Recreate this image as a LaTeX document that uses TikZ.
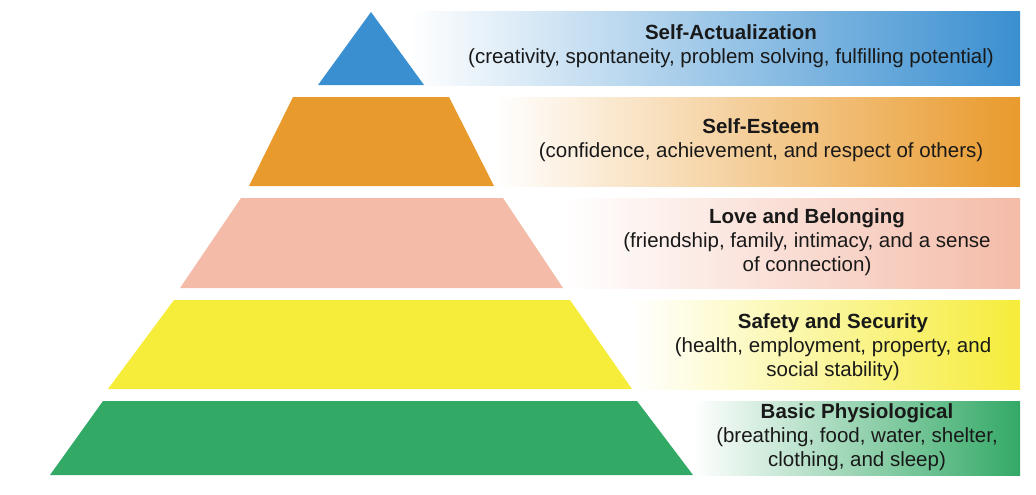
\documentclass[tikz,border=0pt]{standalone}
\usepackage{fontspec}
\setmainfont{Liberation Sans}
\definecolor{cblue}{HTML}{3A8FD0}
\definecolor{corange}{HTML}{E99A2C}
\definecolor{cpink}{HTML}{F4BBA8}
\definecolor{cyellow}{HTML}{F6EC3A}
\definecolor{cgreen}{HTML}{33A966}
\tikzset{lbl/.style={align=center,font=\fontsize{20.5}{24}\selectfont,text=black!90,inner sep=0pt}}
\begin{document}
\begin{tikzpicture}[x=1pt,y=-1pt]
\useasboundingbox (0,0) rectangle (1036,495);
% bands
\shade[left color=white,right color=cblue] (410,12) rectangle (1020,85);
\shade[left color=white,right color=corange] (494,97) rectangle (1020,186);
\shade[left color=white,right color=cpink] (563,198) rectangle (1020,288);
\shade[left color=white,right color=cyellow] (632,300) rectangle (1020,389);
\shade[left color=white,right color=cgreen] (693,401) rectangle (1020,475);
% pyramid
\fill[cblue] (371,12) -- (424,85) -- (318,85) -- cycle;
\fill[corange] (293,97) -- (449,97) -- (494,186) -- (249,186) -- cycle;
\fill[cpink] (241,198) -- (503,198) -- (563,288) -- (180,288) -- cycle;
\fill[cyellow] (174,300) -- (570,300) -- (632,389) -- (108,389) -- cycle;
\fill[cgreen] (103,401) -- (637,401) -- (693,475) -- (50,475) -- cycle;
% labels
\node[lbl] (l1) at (731,46) {\textbf{Self-Actualization}\\(creativity, spontaneity, problem solving, fulfilling potential)};
\node[lbl] (l2) at (761,140) {\textbf{Self-Esteem}\\(confidence, achievement, and respect of others)};
\node[lbl] (l3) at (807,242) {\textbf{Love and Belonging}\\(friendship, family, intimacy, and a sense\\of connection)};
\node[lbl] (l4) at (833,347) {\textbf{Safety and Security}\\(health, employment, property, and\\social stability)};
\node[lbl] (l5) at (857,437) {\textbf{Basic Physiological}\\(breathing, food, water, shelter,\\clothing, and sleep)};
\end{tikzpicture}
\end{document}
